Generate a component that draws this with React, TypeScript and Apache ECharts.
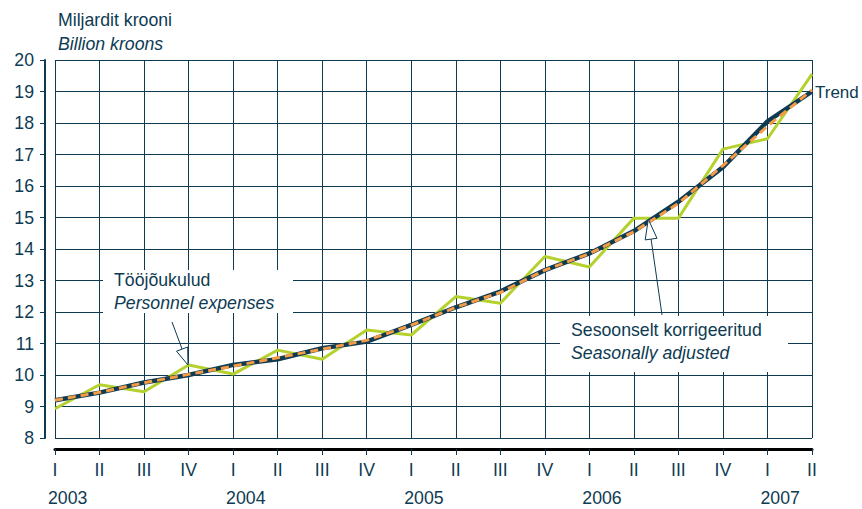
import React, { useEffect, useRef } from "react";
import * as echarts from "echarts";

const quarterLabels = ["I", "II", "III", "IV", "I", "II", "III", "IV", "I", "II", "III", "IV", "I", "II", "III", "IV", "I", "II"];
const yearLabels = ["2003", "", "", "", "2004", "", "", "", "2005", "", "", "", "2006", "", "", "", "2007", ""];
const personnelExpenses = [8.93, 9.69, 9.47, 10.32, 10.03, 10.79, 10.5, 11.43, 11.27, 12.49, 12.28, 13.76, 13.43, 14.98, 14.98, 17.17, 17.5, 19.55];
const trend = [9.2, 9.44, 9.76, 10.0, 10.32, 10.5, 10.85, 11.06, 11.59, 12.15, 12.65, 13.33, 13.86, 14.57, 15.5, 16.6, 18.05, 19.0];
const seasonallyAdjusted = [9.2, 9.45, 9.75, 10.02, 10.28, 10.55, 10.82, 11.1, 11.58, 12.15, 12.62, 13.33, 13.85, 14.55, 15.45, 16.65, 17.9, 19.05];
const yTicks = { min: 8, max: 20, interval: 1 };

const NAVY = "#0e3b52";
const FONT = 'Arial, "Liberation Sans", sans-serif';
const FS = 17.7;

export default function App() {
  const ref = useRef<HTMLDivElement>(null);
  useEffect(() => {
    document.body.style.margin = "0";
    const chart = echarts.init(ref.current!, null, { renderer: "svg" });
    const txt = (x: number, y: number, text: string, italic = false, fs = FS) => ({
      type: "text",
      x,
      y,
      style: {
        text,
        fill: NAVY,
        font: `${italic ? "italic " : ""}${fs}px ${FONT}`,
        textVerticalAlign: "middle",
        textAlign: "left",
      },
    });
    chart.setOption({
      animation: false,
      backgroundColor: "#ffffff",
      textStyle: { fontFamily: FONT },
      grid: { left: 55, right: 50, top: 60, bottom: 71 },
      xAxis: [
        {
          type: "category",
          data: quarterLabels,
          boundaryGap: false,
          position: "bottom",
          offset: 11,
          axisLine: { show: true, lineStyle: { color: "#000000", width: 3 } },
          axisTick: { show: true, length: 6, lineStyle: { color: NAVY, width: 1 }, interval: 0 },
          axisLabel: { interval: 0, color: NAVY, fontSize: FS, fontFamily: FONT, margin: 12 },
          splitLine: { show: true, interval: 0, lineStyle: { color: NAVY, width: 1 } },
        },
        {
          type: "category",
          data: yearLabels,
          boundaryGap: false,
          position: "bottom",
          offset: 11,
          axisLine: { show: false },
          axisTick: { show: false },
          axisLabel: { interval: 0, color: NAVY, fontSize: FS, fontFamily: FONT, margin: 40, align: "left", padding: [0, 0, 0, -7] },
          splitLine: { show: false },
        },
      ],
      yAxis: {
        type: "value",
        min: yTicks.min,
        max: yTicks.max,
        interval: yTicks.interval,
        offset: 10,
        axisLine: { show: true, lineStyle: { color: NAVY, width: 2 } },
        axisTick: { show: true, length: 5, lineStyle: { color: NAVY, width: 1 } },
        axisLabel: { color: NAVY, fontSize: FS, fontFamily: FONT, margin: 11 },
        splitLine: { show: true, lineStyle: { color: NAVY, width: 1 } },
      },
      series: [
        {
          name: "Tööjõukulud",
          type: "line",
          data: personnelExpenses,
          symbol: "none",
          lineStyle: { color: "#b5d12e", width: 3 },
          z: 2,
        },
        {
          name: "Trend",
          type: "line",
          data: trend,
          symbol: "none",
          lineStyle: { color: NAVY, width: 4.5 },
          z: 3,
        },
        {
          name: "Sesoonselt korrigeeritud",
          type: "line",
          data: seasonallyAdjusted,
          symbol: "none",
          lineStyle: { color: "#f59a45", width: 3, type: [8, 5] },
          z: 4,
        },
      ],
      graphic: [
        txt(58, 20, "Miljardit krooni"),
        txt(58, 44, "Billion kroons", true),
        { type: "rect", shape: { x: 103, y: 270, width: 190, height: 43 }, style: { fill: "#ffffff" }, z: 10 },
        { ...txt(114, 280, "Tööjõukulud"), z: 11 },
        { ...txt(114, 303, "Personnel expenses", true), z: 11 },
        { type: "line", shape: { x1: 172, y1: 322, x2: 182.1, y2: 349.1 }, style: { stroke: NAVY, lineWidth: 1 }, z: 11 },
        {
          type: "polygon",
          shape: { points: [[188, 365], [176.5, 351.2], [187.7, 347.0]] },
          style: { fill: "#ffffff", stroke: NAVY, lineWidth: 1 },
          z: 11,
        },
        { type: "rect", shape: { x: 560, y: 316, width: 228, height: 56 }, style: { fill: "#ffffff" }, z: 10 },
        { ...txt(571, 330, "Sesoonselt korrigeeritud"), z: 11 },
        { ...txt(571, 353, "Seasonally adjusted", true), z: 11 },
        { type: "line", shape: { x1: 662, y1: 315, x2: 651.1, y2: 239.1 }, style: { stroke: NAVY, lineWidth: 1 }, z: 11 },
        {
          type: "polygon",
          shape: { points: [[648.3, 219.3], [657.0, 238.3], [645.2, 239.9]] },
          style: { fill: "#ffffff", stroke: NAVY, lineWidth: 1 },
          z: 11,
        },
        { ...txt(815, 92, "Trend", false, 17), z: 11 },
      ],
    });
    return () => chart.dispose();
  }, []);
  return <div ref={ref} style={{ width: 862, height: 509 }} />;
}
